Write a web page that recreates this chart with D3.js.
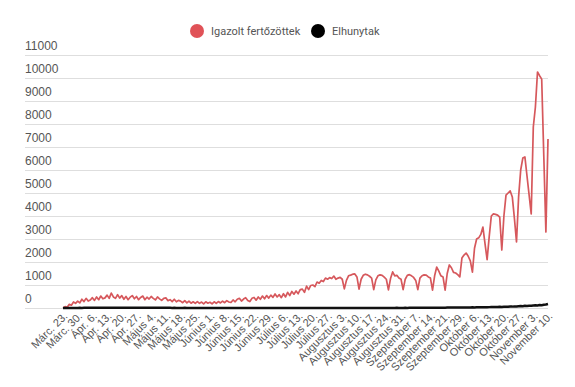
<!DOCTYPE html>
<html>
<head>
<meta charset="utf-8">
<script src="https://cdn.jsdelivr.net/npm/d3@7"></script>
<style>
  body { margin: 0; background: #fff; }
  svg { font-family: Roboto, "Noto Sans", sans-serif; }
</style>
</head>
<body>
<div id="chart"></div>
<script>
var svgWidth = 575;
var svgHeight = 387;
var margin = { top: 55, right: 27, bottom: 79, left: 25 },
    width = svgWidth - margin.left - margin.right,
    height = svgHeight - margin.top - margin.bottom;

// napi adatok, Márc. 23. - November 10. (egy nap hiányzik szeptember végén)
var cases = [
  0, 60, 30, 160, 120, 260, 200,
  300, 220, 380, 280, 420, 300, 350,
  450, 330, 480, 360, 520, 400, 440,
  560, 420, 650, 480, 420, 580, 430,
  540, 380, 500, 360, 470, 540, 400,
  500, 360, 460, 520, 360, 470, 390,
  500, 420, 350, 480, 400, 330, 420,
  440, 320, 360, 280, 380, 270, 330,
  300, 230, 320, 220, 300, 210, 270,
  200, 280, 200, 260, 180, 270, 210,
  250, 180, 270, 200, 280, 220, 300,
  230, 320, 260, 240, 350, 270, 380,
  420, 300, 390, 450, 330, 280, 420,
  460, 340, 480, 380, 520, 400, 540,
  430, 560, 460, 610, 480, 580, 450,
  620, 480, 680, 540, 720, 600, 740,
  620, 800, 820, 680, 950, 800, 980,
  1000, 930, 1130, 1080, 1200, 1150, 1300,
  1250, 1320, 1280, 1390, 1250, 1300, 1330,
  1250, 830, 1200, 1400, 1430, 1470, 1480,
  1350, 820, 1250, 1420, 1470, 1440, 1380,
  1300, 800, 1220, 1400, 1440, 1420, 1340,
  1250, 790, 1280, 1570, 1400, 1420, 1300,
  1250, 800, 1250, 1420, 1450, 1400, 1330,
  1200, 800, 1300, 1400, 1440, 1430, 1350,
  1300, 780, 1400, 1780, 1600, 1400, 1350,
  780, 1500, 1870, 1750, 1550, 1520, 1450,
  1350, 2170, 2300, 2390, 2250, 2050, 1560,
  2600, 3000, 3050, 3200, 3520, 2800, 2100,
  3100, 4000, 4090, 4070, 4040, 3950, 2520,
  4000, 4910, 5000, 5090, 4830, 3900, 2870,
  4830, 6000, 6520, 6570, 5740, 4920, 4090,
  7870, 8740, 10260, 10100, 9950, 6600, 3300,
  7350
];

var deaths = [
  1, 2, 3, 2, 4, 3, 5,
  4, 6, 5, 7, 8, 6, 9,
  10, 8, 12, 11, 9, 13, 10,
  12, 14, 11, 13, 12, 10, 11,
  12, 10, 13, 11, 9, 12, 10,
  11, 9, 10, 8, 12, 9, 10,
  9, 8, 10, 7, 9, 8, 6,
  7, 6, 8, 5, 6, 4, 5,
  5, 4, 6, 3, 5, 4, 3,
  3, 4, 2, 3, 5, 2, 3,
  2, 3, 4, 2, 3, 1, 2,
  2, 1, 3, 2, 1, 2, 1,
  1, 2, 1, 0, 2, 1, 1,
  1, 0, 1, 2, 0, 1, 1,
  0, 1, 1, 0, 2, 1, 0,
  1, 0, 2, 1, 1, 0, 1,
  1, 2, 0, 1, 1, 2, 1,
  0, 1, 1, 2, 0, 1, 1,
  1, 0, 2, 1, 1, 2, 0,
  1, 2, 1, 0, 2, 1, 1,
  2, 1, 3, 2, 1, 2, 3,
  2, 3, 2, 4, 3, 2, 3,
  3, 4, 3, 5, 4, 6, 5,
  5, 4, 6, 5, 7, 6, 8,
  7, 9, 8, 10, 9, 11, 10,
  12, 11, 14, 13, 15, 12, 16,
  15, 18, 17, 20, 19, 22, 21,
  20, 24, 23, 26, 22, 25, 28,
  27, 30, 29, 32, 35, 31, 34,
  38, 42, 40, 46, 43, 50, 47,
  52, 58, 55, 64, 60, 70, 66,
  75, 84, 80, 95, 90, 102, 98,
  110, 118, 112, 130, 124, 140, 150,
  175
];

var xLabels = [
  "Márc. 23.", "Márc. 30.", "Ápr. 6.", "Ápr. 13.", "Ápr. 20.", "Ápr. 27.",
  "Május 4.", "Május 11.", "Május 18.", "Május 25.",
  "Június 1.", "Június 8.", "Június 15.", "Június 22.", "Június 29.",
  "Július 6.", "Július 13.", "Július 20.", "Július 27.",
  "Augusztus 3.", "Augusztus 10.", "Augusztus 17.", "Augusztus 24.", "Augusztus 31.",
  "Szeptember 7.", "Szeptember 14.", "Szeptember 21.", "Szeptember 29.",
  "Október 6.", "Október 13.", "Október 20.", "Október 27.",
  "November 3.", "November 10."
];

var yTicks = [0, 1000, 2000, 3000, 4000, 5000, 6000, 7000, 8000, 9000, 10000, 11000];

var seriesNames = ["Igazolt fertőzöttek", "Elhunytak"];
var lineColors = ["#d6585c", "#111111"];
var dotColors = ["#e05257", "#000000"];

var days = d3.range(cases.length);
var tickDays = xLabels.map((d, i) => i * 7);

var svg = d3.select("#chart").append("svg").attr("width", svgWidth).attr("height", svgHeight);
var g = svg.append("g").attr("transform", `translate(${margin.left},${margin.top})`);

var x = d3.scalePoint().domain(days).range([38, width]);
var y = d3.scaleLinear().domain([0, 11000]).range([height, 0]);

// rácsvonalak + y feliratok
var yAxis = g.append("g")
    .attr("class", "axis axis-y")
    .call(d3.axisLeft(y).tickValues(yTicks).tickSize(-width).tickFormat(d => d));
yAxis.select(".domain").remove();
yAxis.selectAll(".tick line").attr("stroke", "#dedede").attr("stroke-width", 1);
yAxis.selectAll(".tick text")
    .attr("x", 0)
    .attr("dy", "-0.45em")
    .attr("text-anchor", "start")
    .attr("fill", "#555")
    .style("font-size", "12px");

// x tengely
var xAxis = g.append("g")
    .attr("class", "axis axis-x")
    .attr("transform", `translate(0,${height})`)
    .call(d3.axisBottom(x).tickValues(tickDays).tickSize(0).tickFormat((d, i) => xLabels[i]));
xAxis.select(".domain").remove();
xAxis.selectAll(".tick text")
    .attr("text-anchor", "end")
    .attr("fill", "#555")
    .style("font-size", "11px")
    .attr("transform", "translate(2,6) rotate(-45)")
    .attr("dy", "0.35em")
    .attr("y", 0)
    .attr("x", 0);

var line = d3.line().x((d, i) => x(i)).y(d => y(d));

g.append("path")
    .datum(cases)
    .attr("fill", "none")
    .attr("stroke", lineColors[0])
    .attr("stroke-width", 1.7)
    .attr("stroke-linejoin", "round")
    .attr("d", line);

g.append("path")
    .datum(deaths)
    .attr("fill", "none")
    .attr("stroke", lineColors[1])
    .attr("stroke-width", 2.5)
    .attr("stroke-linejoin", "round")
    .attr("d", line);

// jelmagyarázat
var legendX = [197, 318];
var legend = svg.append("g").attr("class", "legend");
seriesNames.forEach(function (name, i) {
    legend.append("circle")
        .attr("cx", legendX[i]).attr("cy", 31).attr("r", 7)
        .attr("fill", dotColors[i]);
    legend.append("text")
        .attr("x", legendX[i] + 14).attr("y", 35)
        .attr("fill", "#555")
        .style("font-size", "11px")
        .text(name);
});
</script>
</body>
</html>
